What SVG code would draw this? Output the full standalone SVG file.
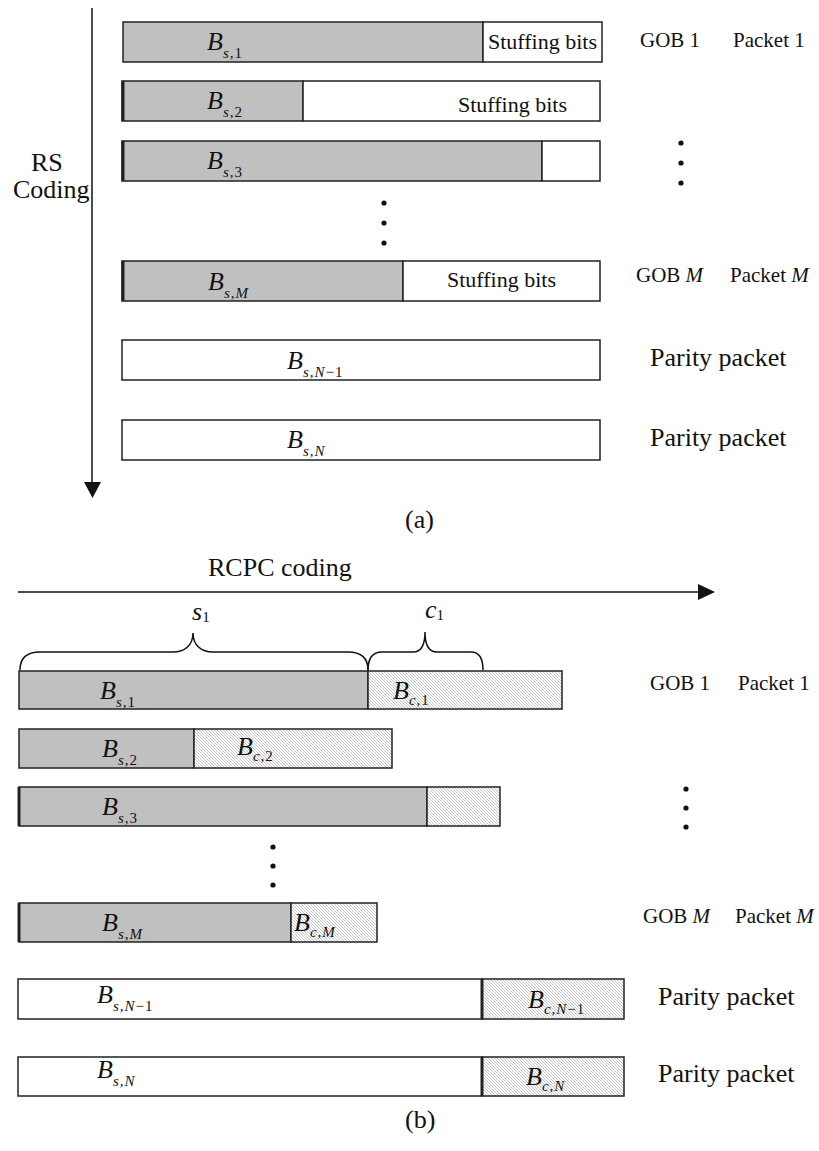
<svg xmlns="http://www.w3.org/2000/svg" width="819" height="1151" viewBox="0 0 819 1151">
<style>
.box{stroke:#222;stroke-width:1.5}
.g{fill:#c0c0c0}
.w{fill:#fff}
.h{fill:url(#hatch)}
.edge{stroke:#222;stroke-width:3}
text{font-family:"Liberation Serif","Times New Roman",serif;fill:#111}
.B{font-size:26px;font-style:italic}
.sub{font-size:15px;font-style:italic;letter-spacing:1px}
.up{font-style:normal}
.lbl{font-size:21px}
.big{font-size:26px}
.stf{font-size:22px}
.cap{font-size:26px}
.ln{stroke:#111;stroke-width:1.5;fill:none}
.dot{fill:#111}
</style>
<defs>
<pattern id="hatch" width="3" height="3" patternUnits="userSpaceOnUse">
<rect width="3" height="3" fill="#fff"/>
<path d="M-1,-1 L4,4 M-1,2 L1,4 M2,-1 L4,1" stroke="#ababab" stroke-width="0.7"/>
</pattern>
</defs>

<g id="connectors">
<line class="ln" x1="92" y1="8" x2="92" y2="484"/>
<path d="M84,482 L101,482 L92.5,498 Z" fill="#111"/>
<line class="ln" x1="18" y1="592" x2="700" y2="592"/>
<path d="M698,584 L715,592 L698,600 Z" fill="#111"/>
<path class="ln" d="M20,670 C20,658 26,652 40,652 L173,652 C185,652 193,645 193,633 C193,645 201,652 213,652 L348,652 C362,652 368,658 368,670"/>
<path class="ln" d="M368,670 C368,658 372,652 382,652 L413,652 C421,652 425,645 425,632 C425,645 429,652 437,652 L471,652 C479,652 483,658 483,670"/>
</g>

<g id="axis-labels">
<text class="big" x="31" y="171">RS</text>
<text class="big" x="13" y="198">Coding</text>
<text class="cap" x="405" y="528">(a)</text>
<text class="big" x="208" y="576">RCPC coding</text>
<text class="B" x="192" y="620">s<tspan class="sub up" dy="2">1</tspan></text>
<text class="B" x="425" y="618">c<tspan class="sub up" dy="2">1</tspan></text>
<text class="cap" x="405" y="1128">(b)</text>
</g>

<!-- Part (a) -->
<g id="a-row1">
<rect class="box g" x="123" y="22" width="360" height="40"/>
<rect class="box w" x="483" y="22" width="119" height="40"/>
<text class="B" x="207" y="50">B<tspan class="sub" dy="8">s,<tspan class="up">1</tspan></tspan></text>
<text class="stf" x="488" y="49">Stuffing bits</text>
</g>
<g id="a-row2">
<rect class="box g" x="122" y="81" width="181" height="40"/>
<rect class="box w" x="303" y="81" width="297" height="40"/>
<line class="edge" x1="123" y1="81" x2="123" y2="121"/>
<text class="B" x="207" y="109">B<tspan class="sub" dy="8">s,<tspan class="up">2</tspan></tspan></text>
<text class="stf" x="458" y="112">Stuffing bits</text>
</g>
<g id="a-row3">
<rect class="box g" x="122" y="141" width="420" height="40"/>
<rect class="box w" x="542" y="141" width="58" height="40"/>
<line class="edge" x1="123" y1="141" x2="123" y2="181"/>
<text class="B" x="207" y="169">B<tspan class="sub" dy="8">s,<tspan class="up">3</tspan></tspan></text>
</g>
<g id="a-dots">
<circle class="dot" cx="681" cy="143" r="2.6"/>
<circle class="dot" cx="681" cy="163" r="2.6"/>
<circle class="dot" cx="681" cy="183" r="2.6"/>
<circle class="dot" cx="384" cy="203" r="2.6"/>
<circle class="dot" cx="384" cy="223" r="2.6"/>
<circle class="dot" cx="384" cy="243" r="2.6"/>
</g>
<g id="a-rowM">
<rect class="box g" x="122" y="261" width="281" height="40"/>
<rect class="box w" x="403" y="261" width="197" height="40"/>
<line class="edge" x1="123" y1="261" x2="123" y2="301"/>
<text class="B" x="208" y="290">B<tspan class="sub" dy="8">s,M</tspan></text>
<text class="stf" x="447" y="287">Stuffing bits</text>
</g>
<g id="a-rowN1">
<rect class="box w" x="122" y="340" width="478" height="40"/>
<text class="B" x="287" y="369">B<tspan class="sub" dy="8">s,N<tspan class="up">−1</tspan></tspan></text>
</g>
<g id="a-rowN">
<rect class="box w" x="122" y="420" width="478" height="40"/>
<text class="B" x="287" y="448">B<tspan class="sub" dy="8">s,N</tspan></text>
</g>
<g id="a-labels">
<text class="lbl" x="640" y="47">GOB 1</text>
<text class="lbl" x="733" y="47">Packet 1</text>
<text class="lbl" x="636" y="282">GOB <tspan font-style="italic">M</tspan></text>
<text class="lbl" x="730" y="282">Packet <tspan font-style="italic">M</tspan></text>
<text class="big" x="650" y="366">Parity packet</text>
<text class="big" x="650" y="446">Parity packet</text>
</g>

<!-- Part (b) -->
<g id="b-row1">
<rect class="box g" x="19" y="671" width="349" height="38"/>
<rect class="box h" x="368" y="671" width="194" height="38"/>
<text class="B" x="100" y="699">B<tspan class="sub" dy="8">s,<tspan class="up">1</tspan></tspan></text>
<text class="B" x="393" y="699">B<tspan class="sub" dy="6">c,<tspan class="up">1</tspan></tspan></text>
</g>
<g id="b-row2">
<rect class="box g" x="19" y="729" width="175" height="39"/>
<rect class="box h" x="194" y="729" width="198" height="39"/>
<text class="B" x="102" y="757">B<tspan class="sub" dy="8">s,<tspan class="up">2</tspan></tspan></text>
<text class="B" x="237" y="755">B<tspan class="sub" dy="6">c,<tspan class="up">2</tspan></tspan></text>
</g>
<g id="b-row3">
<rect class="box g" x="19" y="787" width="408" height="39"/>
<rect class="box h" x="427" y="787" width="73" height="39"/>
<line class="edge" x1="19" y1="787" x2="19" y2="826"/>
<text class="B" x="102" y="815">B<tspan class="sub" dy="8">s,<tspan class="up">3</tspan></tspan></text>
</g>
<g id="b-dots">
<circle class="dot" cx="686" cy="789" r="2.6"/>
<circle class="dot" cx="686" cy="808" r="2.6"/>
<circle class="dot" cx="686" cy="827" r="2.6"/>
<circle class="dot" cx="273" cy="847" r="2.6"/>
<circle class="dot" cx="273" cy="866" r="2.6"/>
<circle class="dot" cx="273" cy="885" r="2.6"/>
</g>
<g id="b-rowM">
<rect class="box g" x="19" y="903" width="272" height="39"/>
<rect class="box h" x="291" y="903" width="86" height="39"/>
<line class="edge" x1="19" y1="903" x2="19" y2="942"/>
<text class="B" x="102" y="931">B<tspan class="sub" dy="8">s,M</tspan></text>
<text class="B" x="294" y="931">B<tspan class="sub" dy="6">c,M</tspan></text>
</g>
<g id="b-rowN1">
<rect class="box w" x="18" y="979" width="464" height="40"/>
<rect class="box h" x="482" y="979" width="142" height="40"/>
<line class="edge" x1="482" y1="979" x2="482" y2="1019"/>
<text class="B" x="97" y="1003">B<tspan class="sub" dy="8">s,N<tspan class="up">−1</tspan></tspan></text>
<text class="B" x="528" y="1008">B<tspan class="sub" dy="6">c,N<tspan class="up">−1</tspan></tspan></text>
</g>
<g id="b-rowN">
<rect class="box w" x="18" y="1057" width="464" height="39"/>
<rect class="box h" x="482" y="1057" width="142" height="39"/>
<line class="edge" x1="482" y1="1057" x2="482" y2="1096"/>
<text class="B" x="97" y="1078">B<tspan class="sub" dy="8">s,N</tspan></text>
<text class="B" x="526" y="1085">B<tspan class="sub" dy="6">c,N</tspan></text>
</g>
<g id="b-labels">
<text class="lbl" x="650" y="690">GOB 1</text>
<text class="lbl" x="738" y="690">Packet 1</text>
<text class="lbl" x="643" y="923">GOB <tspan font-style="italic">M</tspan></text>
<text class="lbl" x="735" y="923">Packet <tspan font-style="italic">M</tspan></text>
<text class="big" x="658" y="1005">Parity packet</text>
<text class="big" x="658" y="1082">Parity packet</text>
</g>
</svg>
